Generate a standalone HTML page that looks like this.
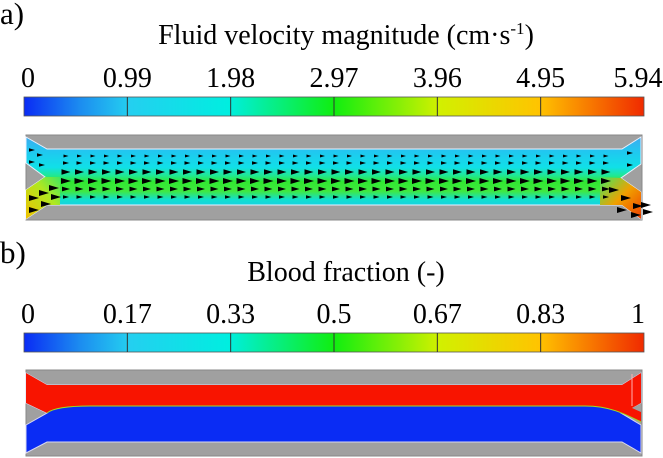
<!DOCTYPE html>
<html><head><meta charset="utf-8">
<style>
html,body{margin:0;padding:0;background:#fff;}
body{width:663px;height:458px;overflow:hidden;position:relative;font-family:"Liberation Serif",serif;}
svg{position:absolute;left:0;top:0;}
</style></head>
<body>
<svg width="663" height="458" viewBox="0 0 663 458">
<defs>
<linearGradient id="jet" x1="0" x2="1" y1="0" y2="0">
<stop offset="0" stop-color="#0a2cf4"/>
<stop offset="0.09" stop-color="#1c8cf0"/>
<stop offset="0.17" stop-color="#24cff0"/>
<stop offset="0.33" stop-color="#00eee0"/>
<stop offset="0.5" stop-color="#10ee10"/>
<stop offset="0.67" stop-color="#d2f000"/>
<stop offset="0.83" stop-color="#ffc400"/>
<stop offset="1" stop-color="#f02a00"/>
</linearGradient>
<linearGradient id="vel" x1="0" x2="0" y1="135" y2="220" gradientUnits="userSpaceOnUse">
<stop offset="0" stop-color="#40a8f0"/>
<stop offset="0.2" stop-color="#20c8f0"/>
<stop offset="0.38" stop-color="#10e0e8"/>
<stop offset="0.48" stop-color="#20e890"/>
<stop offset="0.55" stop-color="#30e830"/>
<stop offset="0.66" stop-color="#40e840"/>
<stop offset="0.76" stop-color="#10e0d0"/>
<stop offset="0.9" stop-color="#20c0f0"/>
<stop offset="1" stop-color="#3090f0"/>
</linearGradient>
<linearGradient id="inl" x1="0" x2="1" y1="1" y2="0">
<stop offset="0" stop-color="#f0c000"/>
<stop offset="0.6" stop-color="#b0e820"/>
<stop offset="1" stop-color="#40e860"/>
</linearGradient>
<linearGradient id="outl" x1="0" x2="1" y1="0" y2="1">
<stop offset="0" stop-color="#40e860"/>
<stop offset="0.5" stop-color="#f0a000"/>
<stop offset="1" stop-color="#f04000"/>
</linearGradient>
</defs>

<!-- Panel a -->
<text x="0" y="24" font-size="31">a)</text>
<text x="346" y="44" font-size="28" text-anchor="middle">Fluid velocity magnitude (cm·s<tspan font-size="17" dy="-10">-1</tspan><tspan dy="10">)</tspan></text>
<g id="cbA"></g>

<g>
<rect x="26" y="135" width="616" height="85" fill="#a0a0a0" stroke="#888"/>
<polygon points="26,137 47,149 622,149 641,137 641,164 621,178 641,192 641,219 622,205 47,205 26,219 26,190 45,177 26,163" fill="url(#vel)" stroke="#e8f0ff" stroke-width="1"/>
<polygon points="26,190 45,177 60,177 60,205 47,205 26,219" fill="url(#inl)"/>
<polygon points="600,177 621,178 641,192 641,219 622,205 600,205" fill="url(#outl)"/>
<g id="arrows"></g>
</g>

<!-- Panel b -->
<text x="0" y="263" font-size="31">b)</text>
<text x="346" y="281" font-size="28" text-anchor="middle">Blood fraction (-)</text>
<g id="cbB"></g>

<g>
<rect x="26" y="370" width="616" height="86" fill="#a0a0a0" stroke="#888"/>
<polygon points="26,373 47,385 622,385 641,373 641,403 621,413 641,425 641,453 622,442 47,442 26,453 26,425 47,413 26,403" fill="#0a2cf4" stroke="#d8d8f0" stroke-width="1"/>
<path d="M26,373 L47,385 L622,385 L641,373 L641,403 L632,408 L641,412 L641,422 C625,414 610,406 585,406 L90,406 C65,406 52,409 47,413 L26,403 Z" fill="#f81400"/>
<path d="M47,413 C52,409 65,406 90,406 L585,406 C610,406 625,414 641,422" fill="none" stroke="#a0e020" stroke-width="1"/>
<line x1="632" y1="374" x2="632" y2="406" stroke="#ffb0b0" stroke-width="1"/>
</g>
</svg>

<script>
const velTicks = ["0","0.99","1.98","2.97","3.96","4.95","5.94"];
const bloodTicks = ["0","0.17","0.33","0.5","0.67","0.83","1"];
const NS = "http://www.w3.org/2000/svg";
function colorbar(id, ticks, y0, labelY){
  const g = document.getElementById(id);
  const x0 = 24, x1 = 644, h = 19;
  const sx = i => x0 + (x1 - x0) * i / (ticks.length - 1);
  const r = document.createElementNS(NS, "rect");
  r.setAttribute("x", x0); r.setAttribute("y", y0); r.setAttribute("width", x1 - x0); r.setAttribute("height", h);
  r.setAttribute("fill", "url(#jet)"); r.setAttribute("stroke", "#555"); r.setAttribute("stroke-width", "0.8");
  
  
  g.appendChild(r);
  ticks.forEach((t, i) => {
    const x = sx(i);
    if (i > 0 && i < ticks.length - 1) {
      const l = document.createElementNS(NS, "line");
      l.setAttribute("x1", x); l.setAttribute("x2", x); l.setAttribute("y1", y0); l.setAttribute("y2", y0 + h);
      l.setAttribute("stroke", "#333"); l.setAttribute("stroke-width", "1");
      
      
      g.appendChild(l);
    }
    const tx = document.createElementNS(NS, "text");
    tx.setAttribute("x", i === 0 ? x + 4 : (i === ticks.length - 1 ? x - 6 : x));
    tx.setAttribute("y", labelY);
    tx.setAttribute("font-size", "28");
    tx.setAttribute("text-anchor", "middle");
    tx.textContent = t;
    
    
    g.appendChild(tx);
  });
}
colorbar("cbA", velTicks, 97, 87);
colorbar("cbB", bloodTicks, 333, 323);

const ag = document.getElementById("arrows");
const rows = [156, 163, 172, 181, 189, 197];
const sizes = [2.5, 3, 4.5, 5, 4, 3];
for (let x = 66; x < 612; x += 13.5) {
  rows.forEach((y, k) => {
    const s = sizes[k];
    const p = document.createElementNS(NS, "polygon");
    p.setAttribute("points", `${x - s},${y - s * 0.6} ${x + s},${y} ${x - s},${y + s * 0.6}`);
    p.setAttribute("fill", "#000");
    
    
    ag.appendChild(p);
  });
}
const extra = [[32,150,3],[40,155,3],[32,162,3],[42,165,3],[34,198,5],[44,193,5],[54,188,5],[34,210,5],[46,204,5],[56,197,5],[614,190,5],[626,198,5],[638,206,5],[622,210,5],[636,215,5],[646,205,5],[648,212,5],[630,153,3],[630,165,3]];
extra.forEach(([x, y, s]) => {
  const p = document.createElementNS(NS, "polygon");
  p.setAttribute("points", `${x - s},${y - s * 0.6} ${x + s},${y} ${x - s},${y + s * 0.6}`);
  p.setAttribute("fill", "#000");
  
  
  ag.appendChild(p);
});
</script>
</body></html>
